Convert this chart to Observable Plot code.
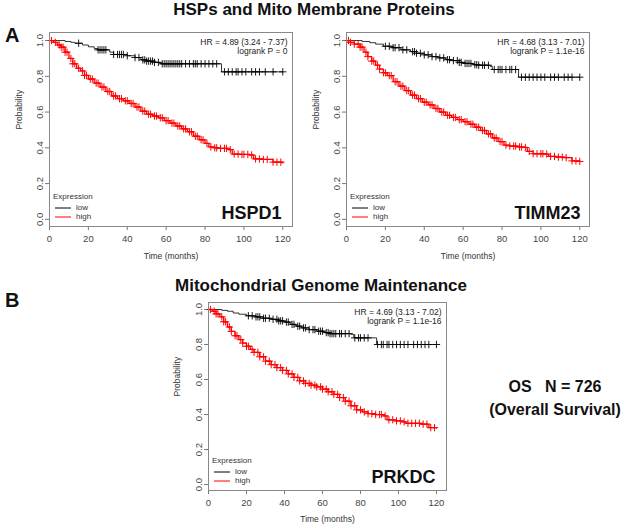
<!DOCTYPE html>
<html>
<head>
<meta charset="utf-8">
<script src="https://cdn.jsdelivr.net/npm/d3@7"></script>
<script src="https://cdn.jsdelivr.net/npm/@observablehq/plot@0.6"></script>
<style>
  html, body { margin: 0; padding: 0; background: #fff; }
  #wrap { position: relative; width: 632px; height: 528px; overflow: hidden; background: #fff; font-family: "Liberation Sans", Arial, sans-serif; }
  .abs { position: absolute; white-space: pre; line-height: 1; }
  .title { font-weight: bold; font-size: 17px; color: #111; }
  .letter { font-weight: bold; font-size: 20px; color: #111; }
  .os { font-weight: bold; font-size: 16px; color: #111; text-align: center; width: 180px; }
  .leg { position: absolute; font-family: "Liberation Sans", Arial, sans-serif; font-size: 8px; color: #333; line-height: 1; }
  .leg > div { position: absolute; white-space: nowrap; }
  .leg svg { position: absolute; display: block; }
</style>
</head>
<body>
<div id="wrap"></div>
<script>
// ---------------- DATA ----------------
const ticksX = [0, 20, 40, 60, 80, 100, 120];
const ticksY = [0, 0.2, 0.4, 0.6, 0.8, 1.0];
const groups = ["low", "high"];

// HSPD1 — step curves [months, survival]
const hspd1Low = [[0,1],[8,0.995],[11,0.99],[13,0.985],[17,0.975],[20,0.965],[23,0.955],[25,0.948],[31,0.935],[33,0.922],[40,0.915],[44,0.905],[47,0.892],[50,0.885],[54,0.878],[57,0.87],[88.5,0.825],[120,0.825]];
const hspd1High = [[0,1],[2,0.99],[4,0.975],[6,0.963],[8,0.935],[10,0.9],[12,0.87],[14,0.845],[16,0.83],[18,0.805],[20,0.785],[23,0.762],[26,0.74],[29,0.715],[32,0.69],[35,0.675],[38,0.663],[41,0.648],[44,0.628],[47,0.605],[50,0.588],[53,0.578],[56,0.568],[59,0.552],[62,0.538],[65,0.522],[68,0.506],[71,0.49],[74,0.465],[77,0.445],[80,0.425],[82,0.405],[85,0.4],[88,0.397],[92,0.39],[94,0.365],[98,0.363],[103,0.36],[105,0.338],[110,0.335],[115,0.32],[120,0.315]];
const hspd1LowCens = [15,25,26,27,28,29,33,35,36,37,38,40,44,46,48,49,50,51,52,53,54,56,58,59,60,61,62,63,64,65,66,67,68,70,72,74,75,76,78,80,82,84,86,90,92,94,96,97,99,101,104,106,108,111,115,120];
const hspd1HighCens = [1,3,5,6,7,8,9,11,12,13,15,17,18,19,21,22,24,25,27,28,30,31,33,34,36,37,39,40,42,43,45,46,48,49,51,52,54,55,57,58,60,61,63,64,66,67,69,70,72,73,75,76,78,79,81,83,85,86,88,90,91,93,95,97,99,100,102,104,106,108,110,112,115,117,119];
const hspd1Stats = ["HR = 4.89 (3.24 - 7.37)", "logrank P = 0"];

// TIMM23
const timm23Low = [[0,1],[8,0.995],[12,0.988],[15,0.98],[19,0.968],[24,0.96],[28,0.948],[33,0.938],[36,0.929],[40,0.92],[44,0.91],[47,0.903],[51,0.893],[54,0.888],[58,0.878],[61,0.872],[65,0.865],[68,0.862],[74,0.855],[75,0.838],[88.5,0.795],[120,0.795]];
const timm23High = [[0,1],[2,0.99],[4,0.98],[7,0.963],[9,0.935],[11,0.91],[13,0.885],[15,0.862],[17,0.84],[19,0.82],[21,0.804],[24,0.77],[27,0.745],[30,0.72],[33,0.695],[36,0.675],[39,0.655],[42,0.64],[45,0.62],[48,0.6],[51,0.582],[54,0.57],[57,0.558],[60,0.546],[63,0.532],[66,0.515],[69,0.497],[72,0.478],[75,0.455],[78,0.435],[81,0.415],[84,0.41],[88,0.405],[91,0.402],[93,0.38],[96,0.367],[102,0.365],[104,0.352],[108,0.348],[112,0.345],[116,0.327],[120,0.324]];
const timm23LowCens = [20,22,24,25,27,29,31,34,35,36,38,40,42,44,46,48,50,52,53,55,57,58,59,61,62,63,64,66,67,68,70,71,73,76,78,79,80,82,84,85,87,90,92,94,96,98,100,102,105,107,109,112,114,116,120];
const timm23HighCens = [1,2,4,6,7,8,10,11,13,14,16,17,19,20,22,23,25,26,28,29,31,32,34,35,37,38,40,41,43,44,46,47,49,50,52,53,55,56,58,59,61,62,64,65,67,68,70,71,73,74,76,77,79,80,82,84,86,87,89,90,92,94,96,98,100,101,103,105,107,109,111,113,116,118,120];
const timm23Stats = ["HR = 4.68 (3.13 - 7.01)", "logrank P = 1.1e-16"];

// PRKDC
const prkdcLow = [[0,1],[7,0.995],[10,0.99],[13,0.98],[16,0.973],[20,0.964],[25,0.958],[29,0.95],[33,0.944],[37,0.935],[40,0.928],[43,0.915],[46,0.905],[49,0.895],[53,0.885],[57,0.876],[61,0.868],[64,0.862],[75,0.858],[76.5,0.838],[88.5,0.8],[120,0.8]];
const prkdcHigh = [[0,1],[2,0.99],[4,0.975],[6,0.958],[8,0.93],[10,0.9],[12,0.875],[14,0.85],[16,0.828],[18,0.808],[20,0.79],[22,0.772],[24,0.755],[27,0.73],[30,0.705],[33,0.685],[36,0.668],[39,0.652],[42,0.632],[45,0.612],[48,0.592],[51,0.578],[54,0.568],[57,0.558],[60,0.545],[63,0.53],[66,0.515],[69,0.497],[72,0.476],[75,0.45],[78,0.427],[81,0.415],[84,0.405],[88,0.4],[92,0.392],[94,0.37],[98,0.364],[102,0.358],[104,0.35],[112,0.345],[116,0.325],[120,0.322]];
const prkdcLowCens = [21,23,25,26,27,29,30,32,34,36,37,38,39,41,42,44,45,47,48,50,51,53,55,56,58,59,60,62,63,64,65,66,67,69,70,72,74,77,79,80,82,84,89,91,92,94,95,97,99,101,103,105,108,110,112,114,116,120];
const prkdcHighCens = [1,3,4,5,7,8,9,11,12,14,15,17,18,20,21,23,24,26,27,29,30,32,33,35,36,38,39,41,42,44,45,47,48,50,51,53,54,56,57,59,60,62,63,65,66,68,69,71,72,74,75,77,78,80,82,84,86,88,90,91,93,95,97,99,101,103,105,107,109,111,113,115,117,119];
const prkdcStats = ["HR = 4.69 (3.13 - 7.02)", "logrank P = 1.1e-16"];

// Titles / labels
const titleTop = "HSPs and Mito Membrane Proteins";
const titleBottom = "Mitochondrial Genome Maintenance";
const osLines = ["OS   N = 726", "(Overall Survival)"];

// ---------------- DRAWING ----------------
const wrap = document.getElementById("wrap");
const FONT = '"Liberation Sans", Arial, sans-serif';
const colors = {low: "#000000", high: "#ff0000"};

function stepAt(curve, t) {
  let v = curve[0][1];
  for (const [tt, s] of curve) { if (tt <= t) v = s; else break; }
  return v;
}

function panel(o) {
  const lowRows = o.low.map(([t, s]) => ({t, s}));
  const highRows = o.high.map(([t, s]) => ({t, s}));
  const lowC = o.lowCens.map(t => ({t, s: stepAt(o.low, t)}));
  const highC = o.highCens.map(t => ({t, s: stepAt(o.high, t)}));
  const svg = Plot.plot({
    width: o.w, height: o.h,
    marginLeft: o.ml, marginRight: o.mr, marginTop: o.mt, marginBottom: o.mb,
    style: {fontFamily: FONT, fontSize: "9px", color: "#333", background: "transparent", overflow: "visible"},
    x: {domain: [0, o.xmax]},
    y: {domain: [o.ymin, o.ymax]},
    marks: [
      Plot.axisX({ticks: ticksX, tickSize: 4, tickPadding: 5, label: null, stroke: "#777", fill: "#444", fontSize: 9.5}),
      Plot.axisY({ticks: ticksY, tickFormat: d3.format(".1f"), tickSize: 4, tickPadding: 3, tickRotate: -90, label: null, stroke: "#777", fill: "#444", fontSize: 9.5}),
      Plot.line(highRows, {x: "t", y: "s", curve: "step-after", stroke: colors.high, strokeWidth: 1.3}),
      Plot.line(lowRows, {x: "t", y: "s", curve: "step-after", stroke: colors.low, strokeWidth: 0.8}),
      Plot.dot(highC, {x: "t", y: "s", symbol: "plus", r: 2.5, stroke: colors.high, strokeWidth: 1}),
      Plot.dot(lowC, {x: "t", y: "s", symbol: "plus", r: 2.5, stroke: colors.low, strokeWidth: 0.9}),
      Plot.text([o.stats.join("\n")], {text: d => d, frameAnchor: "top-right", dx: -5, dy: 6, lineAnchor: "top", textAnchor: "end", fontSize: 8.5, fill: "#222", lineHeight: 1.1}),
      Plot.text([o.gene], {text: d => d, frameAnchor: "bottom-right", dx: o.gdx, dy: -8, lineAnchor: "bottom", textAnchor: "end", fontSize: 18, fontWeight: "bold", fill: "#111"}),
      Plot.text(["Time (months)"], {text: d => d, frameAnchor: "bottom", dy: o.xlab, fontSize: 8.5, fill: "#333"}),
      Plot.text(["Probability"], {text: d => d, frameAnchor: "left", dx: o.ylab, rotate: -90, fontSize: 8.5, fill: "#333"}),
      Plot.frame({stroke: "#888", strokeWidth: 1})
    ]
  });
  svg.style.position = "absolute";
  svg.style.left = o.left + "px";
  svg.style.top = o.top + "px";
  wrap.appendChild(svg);

  // legend (R style, bottom-left inside the box)
  const bx = o.left + o.ml, by = o.top + o.h - o.mb;
  const lg = document.createElement("div");
  lg.className = "leg";
  lg.style.left = (bx + 4) + "px";
  lg.style.top = (by - 33) + "px";
  lg.style.width = "60px"; lg.style.height = "30px";
  let html = `<div style="left:0;top:0">Expression</div>`;
  groups.forEach((g, i) => {
    const ty = 11 + i * 9;
    html += `<svg width="16" height="4" style="left:2px;top:${ty + 2}px"><line x1="0" x2="16" y1="2" y2="2" stroke="${colors[g]}" stroke-width="1"/></svg>`;
    html += `<div style="left:23px;top:${ty}px">${g}</div>`;
  });
  lg.innerHTML = html;
  wrap.appendChild(lg);
}

panel({low: hspd1Low, high: hspd1High, lowCens: hspd1LowCens, highCens: hspd1HighCens, stats: hspd1Stats, gene: "HSPD1",
  left: 0, top: 0, w: 310, h: 270, ml: 49, mr: 18, mt: 32, mb: 44, xmax: 125, ymin: -0.04, ymax: 1.045, xlab: 32, ylab: -30, gdx: -11});
panel({low: timm23Low, high: timm23High, lowCens: timm23LowCens, highCens: timm23HighCens, stats: timm23Stats, gene: "TIMM23",
  left: 310, top: 0, w: 322, h: 270, ml: 36, mr: 43, mt: 32, mb: 44, xmax: 125, ymin: -0.04, ymax: 1.045, xlab: 32, ylab: -30, gdx: -9});
panel({low: prkdcLow, high: prkdcHigh, lowCens: prkdcLowCens, highCens: prkdcHighCens, stats: prkdcStats, gene: "PRKDC",
  left: 150, top: 270, w: 330, h: 258, ml: 58, mr: 34, mt: 32, mb: 38, xmax: 125.3, ymin: -0.034, ymax: 1.04, xlab: 31, ylab: -31, gdx: -11});

function addText(cls, txt, left, top, extra) {
  const d = document.createElement("div");
  d.className = "abs " + cls;
  d.textContent = txt;
  d.style.left = left + "px"; d.style.top = top + "px";
  if (extra) Object.assign(d.style, extra);
  wrap.appendChild(d);
  return d;
}
addText("title", titleTop, 0, 1, {width: "632px", textAlign: "center", transform: "translateX(-2px)"});
addText("letter", "A", 5, 25);
addText("title", titleBottom, 0, 277, {width: "632px", textAlign: "center", transform: "translateX(5px)"});
addText("letter", "B", 5, 290);
addText("os", osLines[0], 465, 379);
addText("os", osLines[1], 465, 402);
</script>
</body>
</html>
